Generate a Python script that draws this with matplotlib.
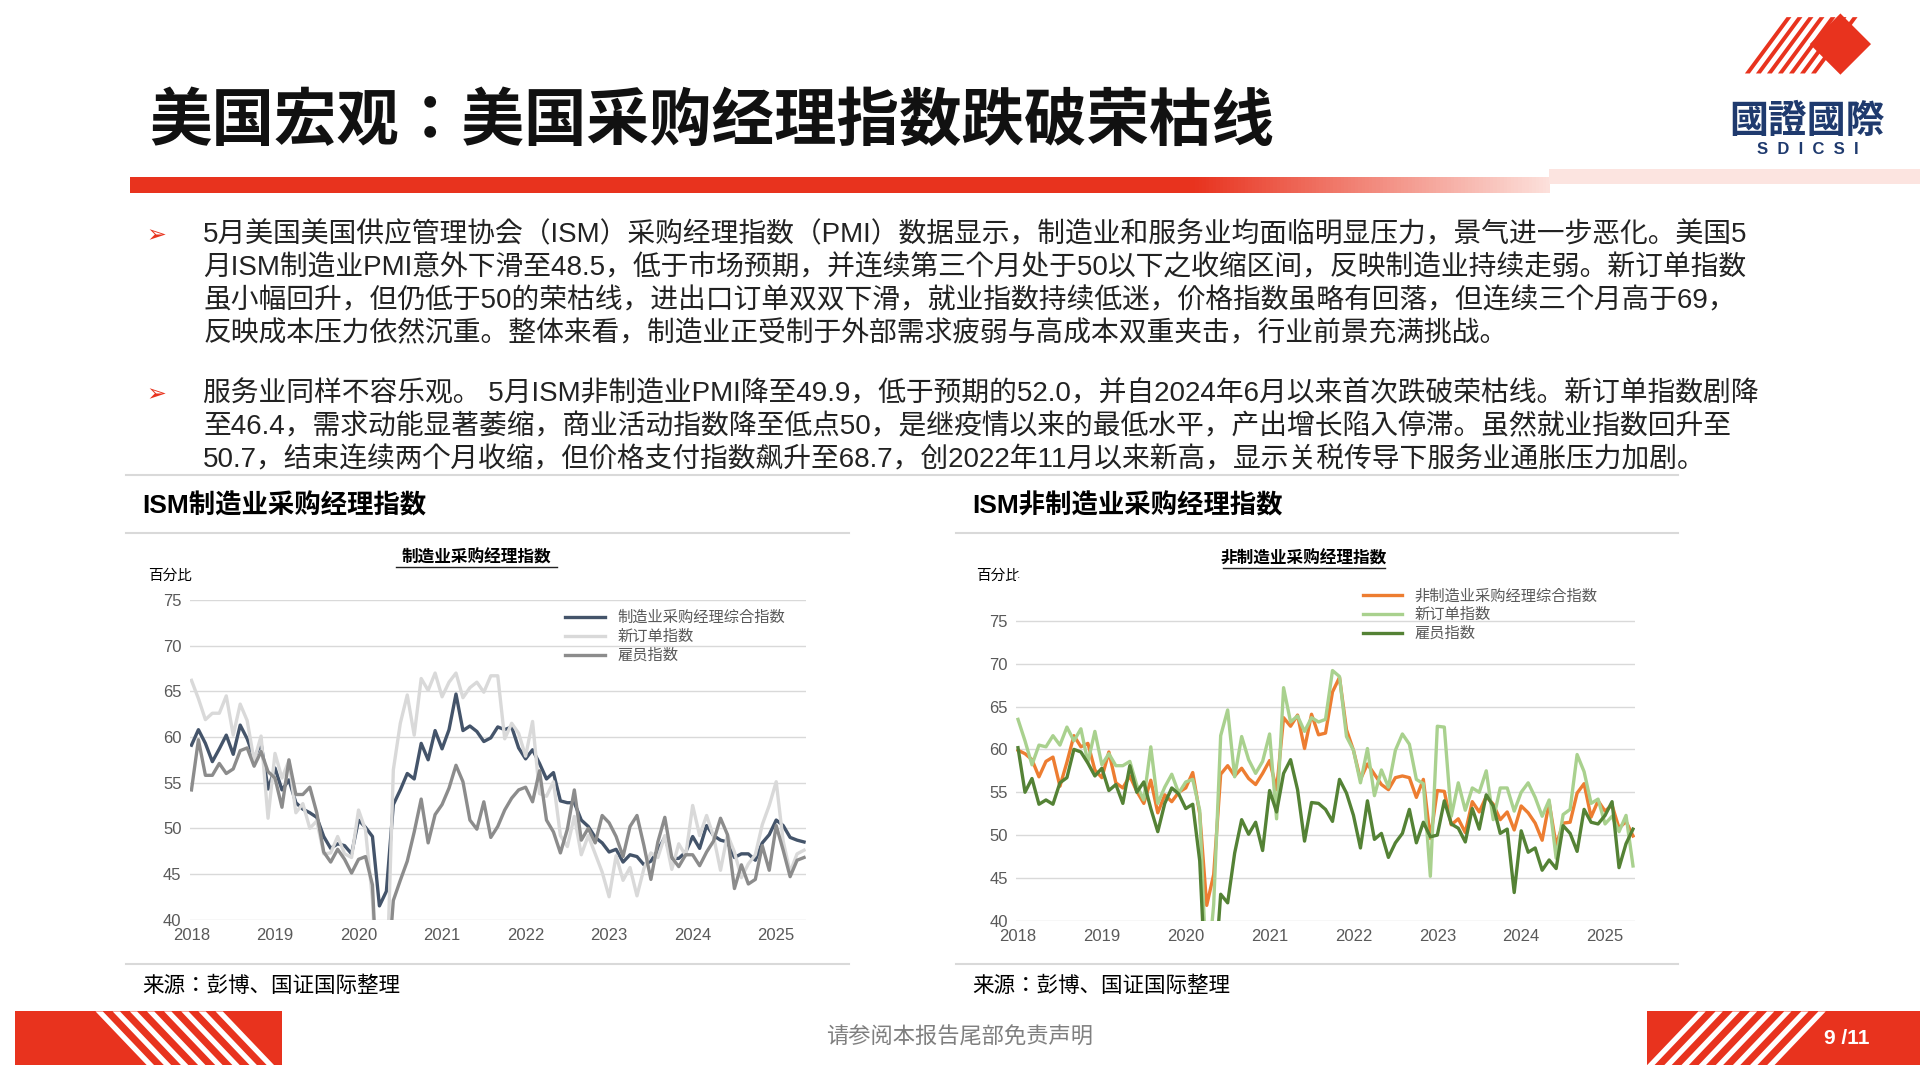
import numpy as np
import matplotlib
matplotlib.use("Agg")
import matplotlib.pyplot as plt
from matplotlib import font_manager as fm
from matplotlib.patches import Polygon, Rectangle

cjk = None
for f in fm.findSystemFonts():
    if "CJK" in f and "Sans" in f and "Serif" not in f:
        try:
            fm.fontManager.addfont(f)
        except Exception:
            pass
names = {fe.name for fe in fm.fontManager.ttflist}
for n in ["Noto Sans CJK SC", "Noto Sans CJK JP", "Noto Sans CJK TC"]:
    if n in names:
        cjk = n
        break
plt.rcParams["font.family"] = ["Liberation Sans"] + ([cjk] if cjk else []) + ["DejaVu Sans"]

# ---------------- data (monthly, Jan 2018 - May 2025) ----------------
mfg_pmi = [59.1,60.8,59.3,57.3,58.7,60.2,58.1,61.3,59.8,57.7,59.3,54.3,
           56.6,54.2,55.3,52.8,52.1,51.7,51.2,49.1,47.8,48.3,48.1,47.2,
           50.9,50.1,49.1,41.5,43.1,52.6,54.2,56.0,55.4,59.3,57.5,60.7,
           58.7,60.8,64.7,60.7,61.2,60.6,59.5,59.9,61.1,60.8,61.1,58.8,
           57.6,58.6,57.1,55.4,56.1,53.0,52.8,52.8,50.9,50.2,49.0,48.4,
           47.4,47.7,46.3,47.1,46.9,46.0,46.4,47.6,49.0,46.7,46.7,47.4,
           49.1,47.8,50.3,49.2,48.7,48.5,46.8,47.2,47.2,46.5,48.4,49.3,
           50.9,50.3,49.0,48.7,48.5]
mfg_new = [66.2,64.2,61.9,62.6,62.6,64.5,60.2,63.6,61.8,57.4,60.1,51.1,
           58.2,55.5,57.4,51.7,52.7,50.0,50.8,47.2,47.3,49.1,47.2,46.8,
           52.0,49.8,42.2,27.1,31.8,56.4,61.5,64.6,60.2,66.4,65.1,67.0,
           64.4,66.0,67.0,64.3,65.4,66.0,64.9,66.7,66.7,59.8,61.5,60.4,
           57.9,61.7,53.8,53.5,55.1,49.2,48.0,51.3,47.1,49.2,47.2,45.2,
           42.5,47.0,44.3,45.7,42.6,45.6,47.3,46.8,49.2,45.5,48.3,47.0,
           52.5,49.2,51.4,49.1,45.4,49.3,47.4,44.6,46.1,47.1,50.4,52.5,
           55.1,48.6,45.2,47.2,47.6]
mfg_emp = [54.2,59.7,55.8,55.8,57.1,56.0,56.5,58.5,58.8,56.8,58.4,56.2,
           55.5,52.3,57.5,53.7,53.7,54.5,51.7,47.4,46.3,47.7,46.6,45.1,
           46.6,46.9,43.8,27.5,32.1,42.1,44.3,46.4,49.6,53.2,48.4,51.5,
           52.6,54.4,56.9,55.1,50.9,49.9,52.9,49.0,50.2,52.0,53.3,54.2,
           54.5,52.9,56.3,50.9,49.6,47.3,49.9,54.2,48.7,50.0,48.4,51.4,
           50.6,49.1,46.9,50.2,51.4,48.1,44.4,48.5,51.2,46.8,45.8,47.1,
           47.1,45.9,47.4,48.6,51.1,49.3,43.4,46.0,43.9,44.4,48.1,45.4,
           50.3,47.6,44.7,46.5,46.8]
svc_pmi = [59.9,59.5,58.8,56.8,58.6,59.1,55.7,58.5,61.6,60.3,60.7,57.6,
           56.7,59.7,56.1,55.5,56.9,55.1,53.7,56.4,52.6,54.7,53.9,55.0,
           55.5,57.3,52.5,41.8,45.4,57.1,58.1,56.9,57.8,56.6,55.9,57.2,
           58.7,55.3,63.7,62.7,64.0,60.1,64.1,61.7,61.9,66.7,68.4,62.3,
           59.9,56.5,58.3,57.1,55.9,55.3,56.7,56.9,56.7,54.4,56.5,49.6,
           55.2,55.1,51.2,51.9,50.3,53.9,52.7,54.5,53.6,51.8,52.7,50.6,
           53.4,52.6,51.4,49.4,53.8,48.8,51.4,51.5,54.9,56.0,52.1,54.0,
           52.8,53.5,50.8,51.6,49.9]
svc_new = [63.5,61.0,58.2,60.5,60.3,61.6,60.5,62.6,61.0,62.4,58.5,62.1,
           58.2,59.5,58.1,58.1,58.6,55.8,54.1,60.3,53.7,55.6,57.1,54.9,
           56.2,56.5,52.9,32.9,41.9,61.6,64.6,56.8,61.5,58.8,57.2,58.6,
           61.8,51.9,67.2,63.2,63.9,62.1,63.7,63.2,63.5,69.2,68.5,61.5,
           59.9,56.1,60.1,54.6,57.6,55.6,59.9,61.8,60.6,56.5,56.0,45.2,
           62.7,62.6,52.2,56.1,52.9,55.5,55.0,57.5,51.8,55.5,55.5,52.8,
           55.0,56.1,54.4,52.2,54.1,47.3,52.4,53.0,59.4,57.4,53.7,54.2,
           51.3,52.2,50.4,52.3,46.4]
svc_emp = [60.2,55.0,56.6,53.6,54.1,53.6,56.1,56.7,60.0,59.7,58.4,56.9,
           57.8,55.2,55.9,53.7,58.1,55.0,56.2,53.1,50.4,53.7,55.5,54.8,
           53.1,53.6,47.0,30.0,31.8,43.1,42.1,47.9,51.8,50.1,51.5,48.2,
           55.2,52.7,57.2,58.8,55.3,49.3,53.8,53.7,53.0,51.6,56.5,54.9,
           52.3,48.5,54.0,49.5,50.2,47.4,49.1,50.2,53.0,49.1,51.5,49.8,
           50.0,54.0,51.3,50.8,49.2,53.1,50.7,54.7,53.4,50.2,50.7,43.3,
           50.5,48.0,48.5,45.9,47.1,46.1,51.1,50.2,48.1,53.0,51.5,51.3,
           52.3,53.9,46.2,49.0,50.7]
year_ticks = [2018, 2019, 2020, 2021, 2022, 2023, 2024, 2025]
y_ticks_mfg = [40, 45, 50, 55, 60, 65, 70, 75]
y_ticks_svc = [40, 45, 50, 55, 60, 65, 70, 75]

W, H = 1568, 882
fig = plt.figure(figsize=(19.2, 10.8), dpi=100)
bg = fig.add_axes([0, 0, 1, 1])
bg.set_xlim(0, W); bg.set_ylim(H, 0); bg.axis("off")
RED = "#E8331E"

bg.text(122, 100, "美国宏观：美国采购经理指数跌破荣枯线", fontsize=45, fontweight="bold",
        va="center", ha="left", color="#111111")
grad = np.linspace(0, 1, 400)
c0 = np.array([0.91, 0.2, 0.12]); c1 = np.array([0.99, 0.88, 0.86])
t = np.clip((grad - 0.75) / 0.25, 0, 1)
img = (c0[None, :] * (1 - t[:, None]) + c1[None, :] * t[:, None])[None, :, :]
bg.imshow(img, extent=[106, 1265, 158, 145], aspect="auto", zorder=1)
bg.add_patch(Rectangle((1265, 138), 303, 12, color="#FCE4E0", lw=0))
bg.set_xlim(0, W); bg.set_ylim(H, 0)

for i in range(7):
    x0 = 1425 + i * 9
    bg.add_patch(Polygon([[x0, 60], [x0 + 4, 60], [x0 + 38, 14], [x0 + 34, 14]], color=RED, lw=0))
bg.add_patch(Polygon([[1478, 36], [1503, 11], [1528, 36], [1503, 61]], color=RED, lw=0))
bg.text(1476, 100, "國證國際", fontsize=28, fontweight="bold", ha="center", va="center", color="#1F3A6E")
bg.text(1476, 122, "S  D  I  C  S  I", fontsize=12, fontweight="bold", ha="center", va="center", color="#1F3A6E")

para1 = ["5月美国美国供应管理协会（ISM）采购经理指数（PMI）数据显示，制造业和服务业均面临明显压力，景气进一步恶化。美国5",
         "月ISM制造业PMI意外下滑至48.5，低于市场预期，并连续第三个月处于50以下之收缩区间，反映制造业持续走弱。新订单指数",
         "虽小幅回升，但仍低于50的荣枯线，进出口订单双双下滑，就业指数持续低迷，价格指数虽略有回落，但连续三个月高于69，",
         "反映成本压力依然沉重。整体来看，制造业正受制于外部需求疲弱与高成本双重夹击，行业前景充满挑战。"]
para2 = ["服务业同样不容乐观。 5月ISM非制造业PMI降至49.9，低于预期的52.0，并自2024年6月以来首次跌破荣枯线。新订单指数剧降",
         "至46.4，需求动能显著萎缩，商业活动指数降至低点50，是继疫情以来的最低水平，产出增长陷入停滞。虽然就业指数回升至",
         "50.7，结束连续两个月收缩，但价格支付指数飙升至68.7，创2022年11月以来新高，显示关税传导下服务业通胀压力加剧。"]
for ys, para in [(192, para1), (322, para2)]:
    bg.text(128, ys, "➢", fontsize=17, color=RED, ha="center", va="center", fontfamily="DejaVu Sans")
    for k, line in enumerate(para):
        bg.text(166, ys + 27 * k, line, fontsize=20, ha="left", va="center", color="#222222")

bg.plot([103, 1370], [388, 388], color="#D9D9D9", lw=1.5)
for x0, x1, title in [(103, 693, "ISM制造业采购经理指数"), (781, 1370, "ISM非制造业采购经理指数")]:
    bg.text(x0 + 13, 413, title, fontsize=19, fontweight="bold", ha="left", va="center")
    bg.plot([x0, x1], [435, 435], color="#D9D9D9", lw=1.5)
    bg.plot([x0, x1], [787, 787], color="#D9D9D9", lw=1.5)
    bg.text(x0 + 13, 806, "来源：彭博、国证国际整理", fontsize=15.5, ha="left", va="center")

bg.add_patch(Rectangle((12, 826), 218, 44, color=RED, lw=0))
for i in range(8):
    x0 = 120 + i * 14
    bg.add_patch(Polygon([[x0, 870], [x0 + 6, 870], [x0 - 36, 826], [x0 - 42, 826]], color="white", lw=0))
bg.add_patch(Rectangle((1345, 826), 223, 44, color=RED, lw=0))
for i in range(8):
    x0 = 1345 + i * 14
    bg.add_patch(Polygon([[x0, 870], [x0 + 6, 870], [x0 + 48, 826], [x0 + 42, 826]], color="white", lw=0))
bg.text(784, 848, "请参阅本报告尾部免责声明", fontsize=16, color="#7F7F7F", ha="center", va="center")
bg.text(1508, 848, "9 /11", fontsize=15, fontweight="bold", color="white", ha="center", va="center")

def fa(x0, y0, x1, y1):
    return [x0 / W, 1 - y1 / H, (x1 - x0) / W, (y1 - y0) / H]

x = 2018 + np.arange(len(mfg_pmi)) / 12.0

def panel(rect, ylim, yticks, series, ctitle, ctitle_x, ctitle_y, unit_xy, leg_xy):
    ax = fig.add_axes(fa(*rect))
    for vals, col, lab in series:
        ax.plot(x, vals, color=col, lw=2.4, label=lab, solid_joinstyle="round")
    ax.set_xlim(2018 - 0.02, x[-1] + 0.02)
    ax.set_ylim(*ylim)
    ax.set_yticks(yticks)
    ax.set_xticks(year_ticks)
    ax.grid(axis="y", color="#D9D9D9", lw=1)
    for s in ax.spines.values():
        s.set_visible(False)
    ax.tick_params(length=0, labelsize=12, labelcolor="#595959", pad=6)
    leg = ax.legend(loc="upper left", bbox_to_anchor=leg_xy, frameon=False, fontsize=11,
                    handlelength=2.6, labelspacing=0.3, borderaxespad=0)
    for txt in leg.get_texts():
        txt.set_color("#595959")
    bg.text(ctitle_x, ctitle_y, ctitle, fontsize=12, fontweight="bold", ha="center", va="center")
    bg.plot([ctitle_x - 66, ctitle_x + 66], [ctitle_y + 8, ctitle_y + 8], color="#222222", lw=1)
    bg.text(unit_xy[0], unit_xy[1], "百分比", fontsize=10.5, ha="left", va="center")
    return ax

panel((155, 490, 658, 751), (40, 75), y_ticks_mfg,
      [(mfg_pmi, "#44546A", "制造业采购经理综合指数"),
       (mfg_new, "#D9D9D9", "新订单指数"),
       (mfg_emp, "#8C8C8C", "雇员指数")],
      "制造业采购经理指数", 389, 455, (121, 470), (0.6, 0.985))
panel((830, 472, 1335, 752), (40, 80), y_ticks_svc,
      [(svc_pmi, "#ED7D31", "非制造业采购经理综合指数"),
       (svc_new, "#A9D18E", "新订单指数"),
       (svc_emp, "#548235", "雇员指数")],
      "非制造业采购经理指数", 1065, 456, (797, 470), (0.55, 0.985))

fig.savefig("out.png", dpi=100)
